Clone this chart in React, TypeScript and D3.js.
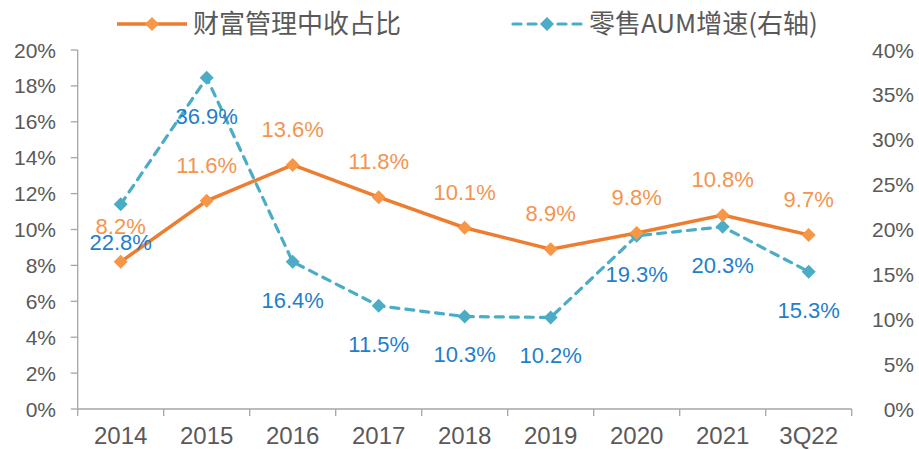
import React from "react";
import * as d3 from "d3";

const categories = ["2014", "2015", "2016", "2017", "2018", "2019", "2020", "2021", "3Q22"];
const wealthShare = [8.2, 11.6, 13.6, 11.8, 10.1, 8.9, 9.8, 10.8, 9.7];
const aumGrowth = [22.8, 36.9, 16.4, 11.5, 10.3, 10.2, 19.3, 20.3, 15.3];
const leftTicks = [0, 2, 4, 6, 8, 10, 12, 14, 16, 18, 20];
const rightTicks = [0, 5, 10, 15, 20, 25, 30, 35, 40];
const seriesNames = ["财富管理中收占比", "零售AUM增速(右轴)"];

const W = 919, H = 450;
const left = 77.7, right = 851.7, top = 50, bottom = 409;
const FONT = "'Noto Sans CJK SC', 'Liberation Sans', sans-serif";
const NUMFONT = "'Liberation Sans', 'Noto Sans CJK SC', sans-serif";

const orangeLine = "#ED7D31";
const orangeMarker = "#F79646";
const orangeLabel = "#F39550";
const blueLine = "#4BACC6";
const blueLabel = "#1E7FCC";
const axisColor = "#A6A6A6";
const tickText = "#595959";

function Diamond({ x, y, fill, r = 7 }: { x: number; y: number; fill: string; r?: number }) {
  return <path d={`M${x},${y - r}L${x + r},${y}L${x},${y + r}L${x - r},${y}Z`} fill={fill} />;
}

export default function App() {
  const x = d3.scaleBand().domain(categories).range([left, right]);
  const yL = d3.scaleLinear().domain([0, 20]).range([bottom, top]);
  const yR = d3.scaleLinear().domain([0, 40]).range([bottom, top]);
  const cx = (c: string) => (x(c) as number) + x.bandwidth() / 2;

  const lineL = d3.line<number>().x((_, i) => cx(categories[i])).y((d) => yL(d));
  const lineR = d3.line<number>().x((_, i) => cx(categories[i])).y((d) => yR(d));

  const bounds = [...categories.map((c) => x(c) as number), right];

  return (
    <svg width={W} height={H} style={{ position: "absolute", left: 0, top: 0, fontFamily: FONT }}>
      <rect width={W} height={H} fill="#fff" />
      {/* left axis */}
      <line x1={left} x2={left} y1={top} y2={bottom} stroke={axisColor} strokeWidth={1.3} />
      {leftTicks.map((t) => (
        <g key={"l" + t}>
          <line x1={left - 7} x2={left} y1={yL(t)} y2={yL(t)} stroke={axisColor} strokeWidth={1.3} />
          <text x={56} y={yL(t)} dy="0.36em" textAnchor="end" fontSize={21} fontFamily={NUMFONT} fill={tickText}>
            {t}%
          </text>
        </g>
      ))}
      {/* right axis labels */}
      {rightTicks.map((t) => (
        <text key={"r" + t} x={914} y={yR(t)} dy="0.36em" textAnchor="end" fontSize={21} fontFamily={NUMFONT} fill={tickText}>
          {t}%
        </text>
      ))}
      {/* bottom axis */}
      <line x1={left} x2={right} y1={bottom} y2={bottom} stroke={axisColor} strokeWidth={1.3} />
      {bounds.map((b, i) => (
        <line key={"b" + i} x1={b} x2={b} y1={bottom} y2={bottom + 7} stroke={axisColor} strokeWidth={1.3} />
      ))}
      {categories.map((c) => (
        <text key={c} x={cx(c)} y={444} textAnchor="middle" fontSize={24} fontFamily={NUMFONT} fill={tickText}>
          {c}
        </text>
      ))}
      {/* blue series */}
      <path d={lineR(aumGrowth) || ""} fill="none" stroke={blueLine} strokeWidth={3.2} strokeDasharray="8,7" strokeLinecap="round" />
      {aumGrowth.map((v, i) => (
        <Diamond key={"bd" + i} x={cx(categories[i])} y={yR(v)} fill={blueLine} />
      ))}
      {/* orange series */}
      <path d={lineL(wealthShare) || ""} fill="none" stroke={orangeLine} strokeWidth={3.5} />
      {wealthShare.map((v, i) => (
        <Diamond key={"od" + i} x={cx(categories[i])} y={yL(v)} fill={orangeMarker} />
      ))}
      {/* labels */}
      {wealthShare.map((v, i) => (
        <text key={"ol" + i} x={cx(categories[i])} y={yL(v) - 36} dy="0.36em" textAnchor="middle" fontSize={22} fontFamily={NUMFONT} fill={orangeLabel}>
          {v.toFixed(1)}%
        </text>
      ))}
      {aumGrowth.map((v, i) => (
        <text key={"bl" + i} x={cx(categories[i])} y={yR(v) + 38} dy="0.36em" textAnchor="middle" fontSize={22} fontFamily={NUMFONT} fill={blueLabel}>
          {v.toFixed(1)}%
        </text>
      ))}
      {/* legend */}
      <line x1={117} x2={187} y1={24} y2={24} stroke={orangeLine} strokeWidth={3.5} />
      <Diamond x={152} y={24} fill={orangeMarker} />
      <text x={193} y={24} dy="0.35em" fontSize={26} fill={tickText}>
        {seriesNames[0]}
      </text>
      <line x1={513} x2={582} y1={24} y2={24} stroke={blueLine} strokeWidth={3.2} strokeDasharray="8,7" strokeLinecap="round" />
      <Diamond x={547} y={24} fill={blueLine} />
      <text x={589} y={24} dy="0.35em" fontSize={26} fill={tickText}>
        {seriesNames[1]}
      </text>
    </svg>
  );
}
